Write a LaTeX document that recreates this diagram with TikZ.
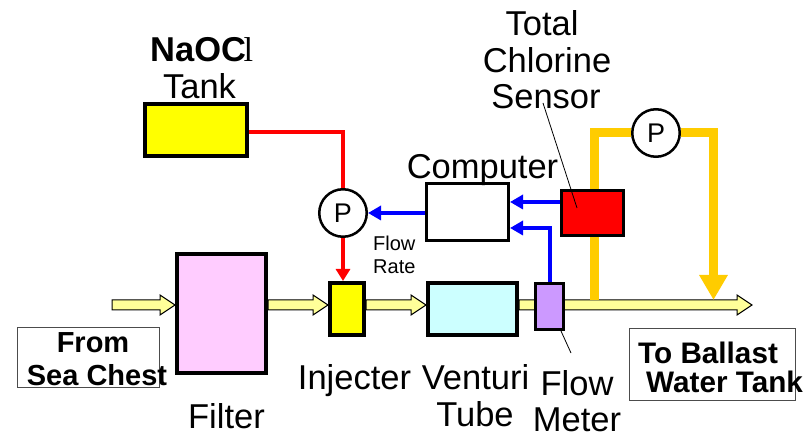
\documentclass[tikz,border=0pt]{standalone}
\usepackage{fontspec}
\setmainfont{Liberation Sans}
\newfontfamily\serifl{Liberation Serif}
\usetikzlibrary{arrows.meta,calc}
\definecolor{pipey}{HTML}{FFFF99}
\definecolor{puretank}{HTML}{FFFF00}
\definecolor{orangey}{HTML}{FFCC00}
\definecolor{pinky}{HTML}{FFCCFF}
\definecolor{cyany}{HTML}{CCFFFF}
\definecolor{purply}{HTML}{CC99FF}
\definecolor{purered}{HTML}{FF0000}
\definecolor{pureblue}{HTML}{0000FF}
\tikzset{
  unit/.style={draw=black,line width=4pt,rectangle,inner sep=0pt},
  pump/.style={draw=black,line width=2.5pt,circle,fill=white,minimum size=47.5pt,inner sep=0pt,font=\fontsize{27}{28}\selectfont},
  lbl/.style={inner sep=0pt,anchor=base,font=\fontsize{34.5}{34}\selectfont},
  blbl/.style={inner sep=0pt,anchor=base,font=\fontsize{29}{29}\selectfont\bfseries},
  tlbl/.style={inner sep=0pt,anchor=base west,font=\fontsize{29.7}{29}\selectfont\bfseries},
  slbl/.style={inner sep=0pt,anchor=base west,font=\fontsize{20}{20}\selectfont},
  tbox/.style={draw=black!70,line width=1pt,fill=white,rectangle,inner sep=0pt},
  redl/.style={draw=purered,line width=4pt},
  bluel/.style={draw=pureblue,line width=4pt,-{Triangle[length=13pt,width=14pt]}},
  orangel/.style={draw=orangey,line width=9pt},
  lead/.style={draw=black,line width=0.8pt},
  yarr/.style={draw=black,line width=1pt,fill=pipey,line join=miter}
}
\newcommand{\yarrow}[2]{%
  \draw[yarr] let \p1=(#1),\p2=(#2) in
    (\x1,\y1+5pt) -- (\x2-15pt,\y1+5pt) -- (\x2-15pt,\y1+10pt) -- (\x2,\y1)
    -- (\x2-15pt,\y1-10pt) -- (\x2-15pt,\y1-5pt) -- (\x1,\y1-5pt) -- cycle;}
\begin{document}
\begin{tikzpicture}[x=1pt,y=-1pt]
\useasboundingbox (0,0) rectangle (812,435);
% text boxes
\node[tbox,minimum width=142pt,minimum height=60pt] (frombox) at (88.5,357.5) {};
\node[tbox,minimum width=166pt,minimum height=72pt] (tobox) at (712.5,364.5) {};
% coordinates on the main line
\coordinate (linein) at (112,305);
\coordinate (lineout) at (752,305);
% units
\node[unit,fill=puretank,minimum width=102pt,minimum height=52pt] (tank) at (196,130) {};
\node[unit,fill=pinky,minimum width=89pt,minimum height=119pt] (filter) at (221.5,313.5) {};
\node[unit,fill=puretank,minimum width=34pt,minimum height=52pt] (inj) at (347,309) {};
\node[unit,fill=cyany,minimum width=89pt,minimum height=52pt] (venturi) at (472.5,309) {};
\node[unit,line width=3pt,fill=white,minimum width=82pt,minimum height=57pt] (comp) at (467.5,212) {};
\node[unit,line width=3pt,fill=purered,minimum width=62pt,minimum height=45pt] (sensor) at (592.5,213) {};
\node[pump] (p1) at (343,213) {P};
\node[pump] (p2) at (656,133) {P};
% yellow pipe
\yarrow{linein}{filter.west |- linein}
\yarrow{filter.east |- linein}{inj.west |- linein}
\yarrow{inj.east |- linein}{venturi.west |- linein}
\yarrow{venturi.east |- linein}{lineout}
\node[unit,line width=3pt,fill=purply,minimum width=28pt,minimum height=46pt] (meter) at (549.5,306.5) {};
% chemical line
\draw[redl,line join=miter] ([yshift=-2pt]tank.east) -| (p1.north);
\draw[redl,-{Triangle[length=12pt,width=14pt]}] (p1.south) -- (p1.south |- inj.north);
% signals
\draw[bluel] ([yshift=11pt]sensor.west) -- ([yshift=11pt]sensor.west -| comp.east);
\draw[bluel] (comp.west |- p1.east) -- (p1.east);
\coordinate (bend) at (550,228);
\draw[bluel,line join=miter] (meter.north -| bend) -- (bend) -- (bend -| comp.east);
% sample loop
\coordinate (loopin) at (594,300);
\coordinate (loopout) at (713.5,300);
\draw[orangel] (sensor.south -| loopin) -- (loopin);
\draw[orangel,line join=miter] (sensor.north -| loopin) |- (p2.west);
\draw[orangel,line join=miter,-{Triangle[length=25pt,width=27pt]}] (p2.east) -| (loopout);
% leaders
\coordinate (sensorlead) at (543,103);
\coordinate (meterlead) at (571,353);
\draw[lead] (sensorlead) -- (577,208);
\draw[lead] (561,331) -- (meterlead);
% labels
\node[inner sep=0pt,anchor=base west,font=\fontsize{34.5}{34}\selectfont] (naocl) at (150,62) {\textbf{NaOC}\kern-2.5pt{\serifl l}};
\node[lbl] (tanklbl) at (199.5,99) {Tank};
\node[lbl] (t1) at (542,36) {Total};
\node[lbl] (t2) at (547,73) {Chlorine};
\node[lbl] (t3) at (546,109) {Sensor};
\node[lbl] (complbl) at (482.5,179) {Computer};
\node[slbl] (fl1) at (373,251) {Flow};
\node[slbl] (fl2) at (373,274) {Rate};
\node[lbl] (injlbl) at (354.5,390) {Injecter};
\node[lbl] (filterlbl) at (226.5,429) {Filter};
\node[lbl] (v1) at (475.5,390) {Venturi};
\node[lbl] (v2) at (475,427) {Tube};
\node[lbl] (m1) at (577,396) {Flow};
\node[lbl] (m2) at (577,432) {Meter};
\node[blbl] (from1) at (93,353) {From};
\node[blbl] (from2) at (97,386) {Sea Chest};
\node[tlbl] (to1) at (638,364) {To Ballast};
\node[tlbl] (to2) at (646,393) {Water Tank};
\end{tikzpicture}
\end{document}
